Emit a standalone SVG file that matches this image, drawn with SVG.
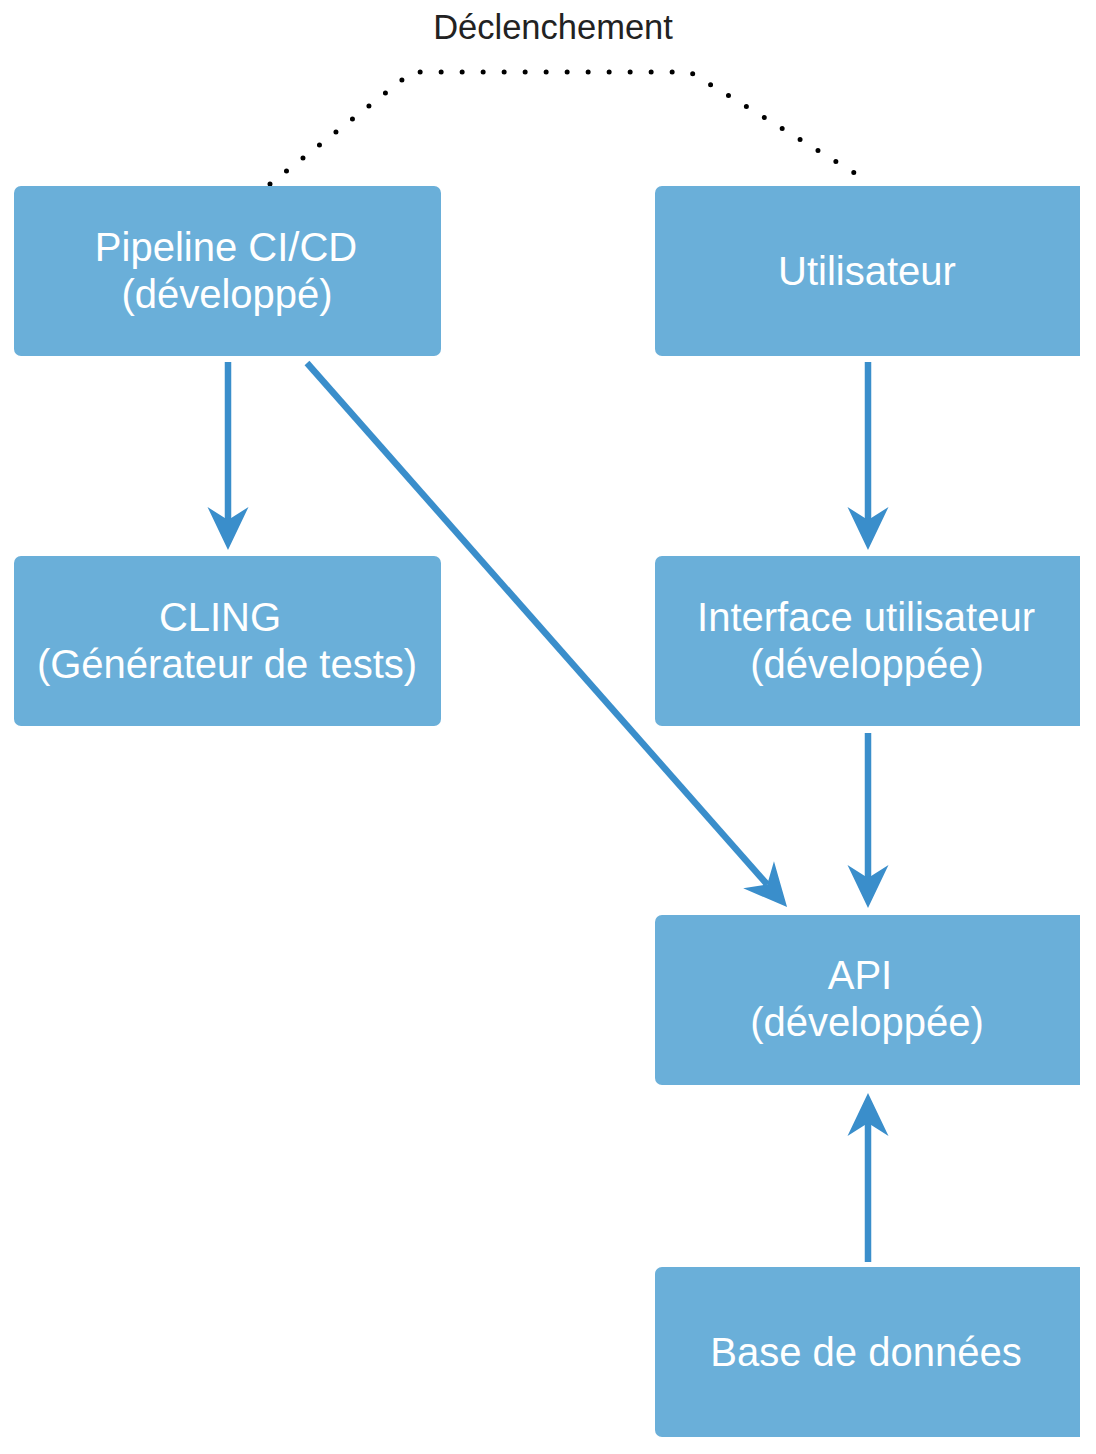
<svg xmlns="http://www.w3.org/2000/svg" width="1096" height="1454" viewBox="0 0 1096 1454">
  <style>
    .box { fill: #6aafd9; }
    .lbl { fill: #ffffff; font-family: "Liberation Sans", Arial, sans-serif; font-size: 40px; text-anchor: middle; }
    .edge { stroke: #3a8ecb; stroke-width: 6.5; fill: none; marker-end: url(#arr); }
    .dots { stroke: #000000; stroke-width: 5; fill: none; stroke-linecap: round; stroke-dasharray: 0 21; }
    .note { fill: #222222; font-family: "Liberation Sans", Arial, sans-serif; font-size: 34.5px; text-anchor: middle; }
  </style>
  <defs>
    <marker id="arr" markerUnits="userSpaceOnUse" markerWidth="50" markerHeight="50" refX="13" refY="21" orient="auto" overflow="visible">
      <path d="M0,0.5 L43,21 L0,41.5 L13,21 Z" fill="#3a8ecb"/>
    </marker>
    <clipPath id="cut">
      <rect x="0" y="0" width="1080" height="1454"/>
    </clipPath>
  </defs>
  <rect width="1096" height="1454" fill="#ffffff"/>

  <g id="connectors">
    <path class="dots" d="M270,184 L412,72 L690,72 L866,180"/>
    <text class="note" x="553" y="39">Déclenchement</text>
    <path class="edge" d="M228,362 L228,520"/>
    <path class="edge" d="M307,363 L767.2,884.5"/>
    <path class="edge" d="M868,362 L868,520"/>
    <path class="edge" d="M868,733 L868,878"/>
    <path class="edge" d="M868,1262 L868,1123"/>
  </g>

  <g id="pipeline">
    <rect class="box" x="14" y="186" width="427" height="170" rx="7"/>
    <text class="lbl" x="226" y="261">Pipeline CI/CD</text>
    <text class="lbl" x="227" y="308">(développé)</text>
  </g>
  <g id="cling">
    <rect class="box" x="14" y="556" width="427" height="170" rx="7"/>
    <text class="lbl" x="220" y="631">CLING</text>
    <text class="lbl" x="227" y="678">(Générateur de tests)</text>
  </g>
  <g id="utilisateur" clip-path="url(#cut)">
    <rect class="box" x="655" y="186" width="440" height="170" rx="7"/>
    <text class="lbl" x="867" y="285">Utilisateur</text>
  </g>
  <g id="interface" clip-path="url(#cut)">
    <rect class="box" x="655" y="556" width="440" height="170" rx="7"/>
    <text class="lbl" x="866" y="631">Interface utilisateur</text>
    <text class="lbl" x="867" y="678">(développée)</text>
  </g>
  <g id="api" clip-path="url(#cut)">
    <rect class="box" x="655" y="915" width="440" height="170" rx="7"/>
    <text class="lbl" x="860" y="989">API</text>
    <text class="lbl" x="867" y="1036">(développée)</text>
  </g>
  <g id="base" clip-path="url(#cut)">
    <rect class="box" x="655" y="1267" width="440" height="170" rx="7"/>
    <text class="lbl" x="866" y="1366">Base de données</text>
  </g>
</svg>
